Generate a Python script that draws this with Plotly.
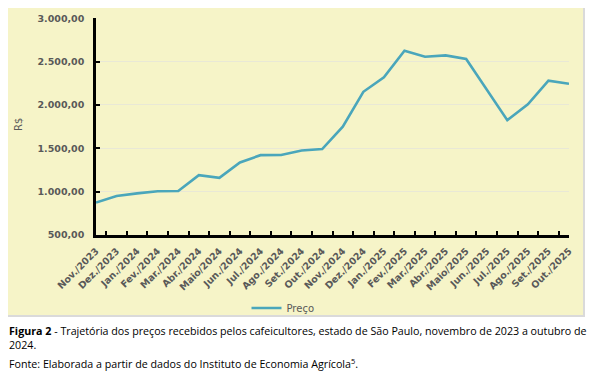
import plotly.graph_objects as go

months = ["Nov./2023", "Dez./2023", "Jan./2024", "Fev./2024", "Mar./2024", "Abr./2024",
          "Maio/2024", "Jun./2024", "Jul./2024", "Ago./2024", "Set./2024", "Out./2024",
          "Nov./2024", "Dez./2024", "Jan./2025", "Fev./2025", "Mar./2025", "Abr./2025",
          "Maio/2025", "Jun./2025", "Jul./2025", "Ago./2025", "Set./2025", "Out./2025"]
preco = [875, 950, 980, 1005, 1008, 1190, 1160, 1337, 1421, 1423, 1475, 1492,
         1750, 2152, 2319, 2626, 2557, 2572, 2530, 2178, 1825, 2007, 2280, 2245]
y_ticks = [500, 1000, 1500, 2000, 2500, 3000]

# page body has an 8px margin; figure is sized to fit the window exactly
OFF = 8
W, H = 612 - OFF, 380 - OFF
def px(x): return (x - OFF) / W
def py(y): return (H - (y - OFF)) / H

fig = go.Figure()
fig.add_trace(go.Scatter(x=months, y=preco, mode="lines", name="Preço",
                         line=dict(color="#4AA6BB", width=2.6)))

tick_font = dict(size=9.5, color="#595959", family="DejaVu Sans", weight="bold")

fig.update_layout(
    width=W, height=H,
    margin=dict(l=0, r=0, t=0, b=0, autoexpand=False),
    paper_bgcolor="white",
    plot_bgcolor="rgba(0,0,0,0)",
    separators=",.",
    font=dict(family="DejaVu Sans", color="#595959"),
    showlegend=True,
    legend=dict(orientation="h", x=px(283), xanchor="center", y=py(308), yanchor="middle",
                font=dict(size=10, color="#595959", family="DejaVu Sans"),
                bgcolor="rgba(0,0,0,0)"),
    xaxis=dict(domain=[px(96), px(569)], type="category", tickson="boundaries",
               ticks="inside", ticklen=4, tickwidth=2, tickcolor="black",
               showline=True, linecolor="black", linewidth=2.5, showgrid=False,
               tickangle=-45, automargin=False, tickfont=tick_font, anchor="y",
               ticklabelstandoff=4),
    yaxis=dict(domain=[py(235), py(18.3)], range=[500, 3000], tickvals=y_ticks,
               tickformat=",.2f", ticks="inside", ticklen=4, tickwidth=2, tickcolor="black",
               showline=True, linecolor="black", linewidth=2.5, automargin=False,
               showgrid=True, gridcolor="#E9E8D6", gridwidth=1, zeroline=False,
               tickfont=tick_font, ticklabelstandoff=7),
    shapes=[dict(type="rect", xref="paper", yref="paper", x0=px(7), x1=px(584),
                 y0=py(316), y1=py(2), fillcolor="#F6F4C8",
                 line=dict(color="#DADADA", width=2), layer="below")],
    annotations=[
        dict(xref="paper", yref="paper", x=px(18), y=py(125), xanchor="center", yanchor="middle",
             showarrow=False, text="R$", textangle=-90,
             font=dict(size=10, color="#595959", family="DejaVu Sans")),
        dict(xref="paper", yref="paper", x=px(7), y=py(331), xanchor="left", yanchor="middle",
             showarrow=False, align="left",
             text="<b>Figura 2</b> - Trajetória dos preços recebidos pelos cafeicultores, estado de São Paulo, novembro de 2023 a outubro de",
             font=dict(size=10.7, color="black", family="Open Sans")),
        dict(xref="paper", yref="paper", x=px(7), y=py(345), xanchor="left", yanchor="middle",
             showarrow=False, align="left", text="2024.",
             font=dict(size=10.7, color="black", family="Open Sans")),
        dict(xref="paper", yref="paper", x=px(7), y=py(363), xanchor="left", yanchor="middle",
             showarrow=False, align="left",
             text="Fonte: Elaborada a partir de dados do Instituto de Economia Agrícola<sup>5</sup>.",
             font=dict(size=10.7, color="black", family="Open Sans")),
    ],
)

fig.write_html("out.html")
